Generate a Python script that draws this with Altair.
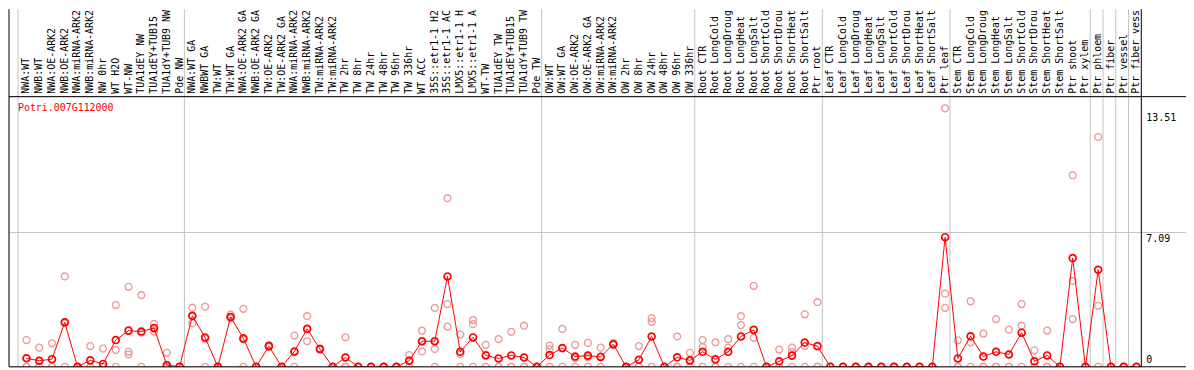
import altair as alt
import pandas as pd

# ---------------- data ----------------
gene = "Potri.007G112000"

labels = [
    # group 1
    "NWA:WT", "NWB:WT", "NWA:OE-ARK2", "NWB:OE-ARK2", "NWA:miRNA-ARK2", "NWB:miRNA-ARK2",
    "NW 0hr", "WT H2O", "WT-NW", "TUA1dEY NW", "TUA1dEY+TUB15", "TUA1dY+TUB9 NW", "Pde NW",
    # group 2
    "NWA:WT GA", "NWBWT GA", "TW:WT", "TW:WT GA", "NWA:OE-ARK2 GA", "NWB:OE-ARK2 GA",
    "TW:OE-ARK2", "TW:OE-ARK2 GA", "NWA:miRNA-ARK2", "NWB:miRNA-ARK2", "TW:miRNA-ARK2",
    "TW:miRNA-ARK2", "TW 2hr", "TW 8hr", "TW 24hr", "TW 48hr", "TW 96hr", "TW 336hr",
    "WT ACC", "35S::etr1-1 H2", "35S::etr1-1 AC", "LMX5::etr1-1 H", "LMX5::etr1-1 A",
    "WT-TW", "TUA1dEY TW", "TUA1dEY+TUB15", "TUA1dY+TUB9 TW", "Pde TW",
    # group 3
    "OW:WT", "OW:WT GA", "OW:OE-ARK2", "OW:OE-ARK2 GA", "OW:miRNA-ARK2", "OW:miRNA-ARK2",
    "OW 2hr", "OW 8hr", "OW 24hr", "OW 48hr", "OW 96hr", "OW 336hr",
    # group 4
    "Root CTR", "Root LongCold", "Root LongDroug", "Root LongHeat", "Root LongSalt",
    "Root ShortCold", "Root ShortDrou", "Root ShortHeat", "Root ShortSalt", "Ptr root",
    # group 5
    "Leaf CTR", "Leaf LongCold", "Leaf LongDroug", "Leaf LongHeat", "Leaf LongSalt",
    "Leaf ShortCold", "Leaf ShortDrou", "Leaf ShortHeat", "Leaf ShortSalt", "Ptr leaf",
    # group 6
    "Stem CTR", "Stem LongCold", "Stem LongDroug", "Stem LongHeat", "Stem LongSalt",
    "Stem ShortCold", "Stem ShortDrou", "Stem ShortHeat", "Stem ShortSalt", "Ptr shoot",
    "Ptr xylem",
    # singles
    "Ptr phloem", "Ptr fiber", "Ptr vessel", "Ptr fiber vess",
]

means = [
    0.45, 0.32, 0.40, 2.35, 0, 0.34, 0.15, 1.41, 1.91, 1.86, 2.05, 0.09, 0,
    2.69, 1.55, 0, 2.63, 1.50, 0, 1.09, 0, 0.81, 2.00, 0.94, 0, 0.49, 0, 0, 0, 0,
    0.32, 1.35, 1.35, 4.77, 0.79, 1.55, 0.60, 0.44, 0.60, 0.49, 0,
    0.62, 0.99, 0.54, 0.59, 0.52, 1.19, 0, 0.37, 1.60, 0, 0.50, 0.34,
    0.79, 0.39, 0.79, 1.60, 1.95, 0, 0.29, 0.59, 1.28, 1.09,
    0, 0, 0, 0, 0, 0, 0, 0, 0, 6.84,
    0.44, 1.61, 0.54, 0.79, 0.65, 1.80, 0.29, 0.60, 0, 5.74, 0,
    5.12, 0, 0, 0,
]

rep1 = [
    1.41, 1.01, 1.24, 4.77, 0, 1.09, 0.96, 3.26, 4.22, 3.78, 2.27, 0.74, 0,
    3.12, 3.17, 0, 2.75, 3.06, 0, 1.15, 0, 1.65, 2.67, 0.96, 0, 1.56, 0, 0, 0, 0,
    0.62, 1.91, 3.11, 8.90, 1.70, 2.47, 1.16, 1.46, 1.85, 2.17, 0,
    1.12, 2.00, 1.16, 1.26, 1.01, 1.25, 0, 1.09, 2.57, 0, 1.60, 0.74,
    1.41, 1.29, 1.46, 2.67, 4.27, 0, 0.91, 1.01, 2.77, 3.41,
    0, 0, 0, 0, 0, 0, 0, 0, 0, 13.64,
    1.40, 3.46, 1.75, 2.52, 1.96, 3.31, 0.87, 1.91, 0, 10.11, 0,
    12.13, 0, 0, 0,
]
rep2 = [
    0, 0, 0, 2.30, 0, 0, 0, 0.89, 0.79, 1.80, 1.86, 0, 0,
    2.29, 1.48, 0, 2.55, 1.44, 0, 1.10, 0, 0.77, 1.35, 0.90, 0, 0, 0, 0, 0, 0,
    0.34, 0.81, 0.94, 3.31, 0.67, 2.25, 0.64, 0, 0, 0, 0,
    0.92, 0.97, 0.46, 0.50, 0.55, 1.15, 0, 0, 2.37, 0, 0, 0.30,
    1.04, 0, 1.00, 2.20, 1.53, 0, 0, 0.78, 1.09, 0,
    0, 0, 0, 0, 0, 0, 0, 0, 0, 3.86,
    0, 1.29, 0, 0, 0, 2.17, 0, 0, 0, 4.53, 0,
    3.22, 0, 0, 0,
]
rep3 = [
    0, 0, 0, 0, 0, 0, 0, 0, 0.65, 0, 2.00, 0, 0,
    2.66, 0, 0, 2.60, 0, 0, 1.05, 0, 0, 2.00, 0.95, 0, 0, 0, 0, 0, 0,
    0, 1.33, 0, 2.12, 0, 0, 0, 0, 0, 0, 0,
    0, 0, 0, 0, 0, 1.17, 0, 0, 0, 0, 0, 0,
    0, 0, 0, 0, 0, 0, 0, 0, 0, 0,
    0, 0, 0, 0, 0, 0, 0, 0, 0, 3.11,
    0, 0, 0, 0, 0, 0, 0, 0, 0, 2.52, 0,
    0, 0, 0, 0,
]

# group separators (in column-index units)
separators = [-0.66, 12.38, 40.38, 52.38, 62.38, 72.38, 83.38, 84.38, 85.38, 86.38]
y_ticks = ["13.51", "7.09"]
y_zero = ["0"]

# ---------------- layout ----------------
W, H = 1140, 272
TOP, RIGHT = 88, 45
XDOM = [-1.37, 87.38]
YDOM = [0, 14.26]
FONT = "DejaVu Sans Mono"

xs = alt.Scale(domain=XDOM, nice=False, zero=False)
ys = alt.Scale(domain=YDOM, nice=False, zero=False)

cols = pd.DataFrame({"i": list(range(len(labels))), "label": labels, "mean": means})
reps = pd.DataFrame({
    "i": list(range(len(labels))) * 3,
    "v": rep1 + rep2 + rep3,
})
seps = pd.DataFrame({"x": separators})
edges = pd.DataFrame({"x": XDOM})

X = lambda f: alt.X(f, type="quantitative", scale=xs, axis=None)
Y = lambda f: alt.Y(f, type="quantitative", scale=ys, axis=None)

vgrid = alt.Chart(seps).mark_rule(color="#c4c4c4", strokeWidth=1).encode(
    x=X("x"), y=alt.value(-TOP), y2=alt.value(H)
)
hgrid = alt.Chart(pd.DataFrame({"v": [7.09]})).mark_rule(color="#c4c4c4", strokeWidth=1).encode(
    y=Y("v"), x=alt.value(0), x2=alt.value(W + RIGHT)
)
vframe = alt.Chart(edges).mark_rule(color="black", strokeWidth=1).encode(
    x=X("x"), y=alt.value(-TOP), y2=alt.value(H)
)
hframe = alt.Chart(pd.DataFrame({"v": [YDOM[0], YDOM[1]]})).mark_rule(color="black", strokeWidth=1).encode(
    y=Y("v"), x=alt.value(0), x2=alt.value(W + RIGHT)
)

rep_pts = alt.Chart(reps).mark_point(
    shape="circle", filled=False, color="#eb9898", strokeWidth=1.3, size=48, clip=True, opacity=1
).encode(x=X("i"), y=Y("v"))

mean_line = alt.Chart(cols).mark_line(color="#ff0000", strokeWidth=1, clip=True).encode(
    x=X("i"), y=Y("mean")
)
mean_pts = alt.Chart(cols).mark_point(
    shape="circle", filled=False, color="#ff0000", strokeWidth=1.7, size=48, clip=True, opacity=1
).encode(x=X("i"), y=Y("mean"))

col_text = alt.Chart(cols).mark_text(
    angle=270, align="left", baseline="middle", font=FONT, fontSize=10, color="black", dx=3
).encode(x=X("i"), y=alt.value(0), text="label:N")

gene_text = alt.Chart(pd.DataFrame({"t": [gene]})).mark_text(
    align="left", baseline="top", font=FONT, fontSize=10, color="#ff0000"
).encode(x=alt.value(9), y=alt.value(6), text="t:N")

ytop = alt.Chart(pd.DataFrame({"t": y_ticks})).mark_text(
    align="left", baseline="top", font=FONT, fontSize=10, color="black", dy=2
).encode(x=alt.value(W + 5), y=alt.Y("t", type="quantitative", scale=ys, axis=None), text="t:N")
ybot = alt.Chart(pd.DataFrame({"t": y_zero})).mark_text(
    align="left", baseline="bottom", font=FONT, fontSize=10, color="black", dy=-2
).encode(x=alt.value(W + 5), y=alt.Y("t", type="quantitative", scale=ys, axis=None), text="t:N")

chart = alt.layer(
    vgrid, hgrid, rep_pts, mean_line, mean_pts, vframe, hframe, col_text, gene_text, ytop, ybot
).properties(
    width=W, height=H,
    autosize=alt.AutoSizeParams(type="none"),
    padding={"left": 1, "top": TOP, "right": RIGHT, "bottom": 2},
).configure_view(stroke=None).configure(background="white")

chart.save("out.html", embed_options={"renderer": "svg", "actions": False})
